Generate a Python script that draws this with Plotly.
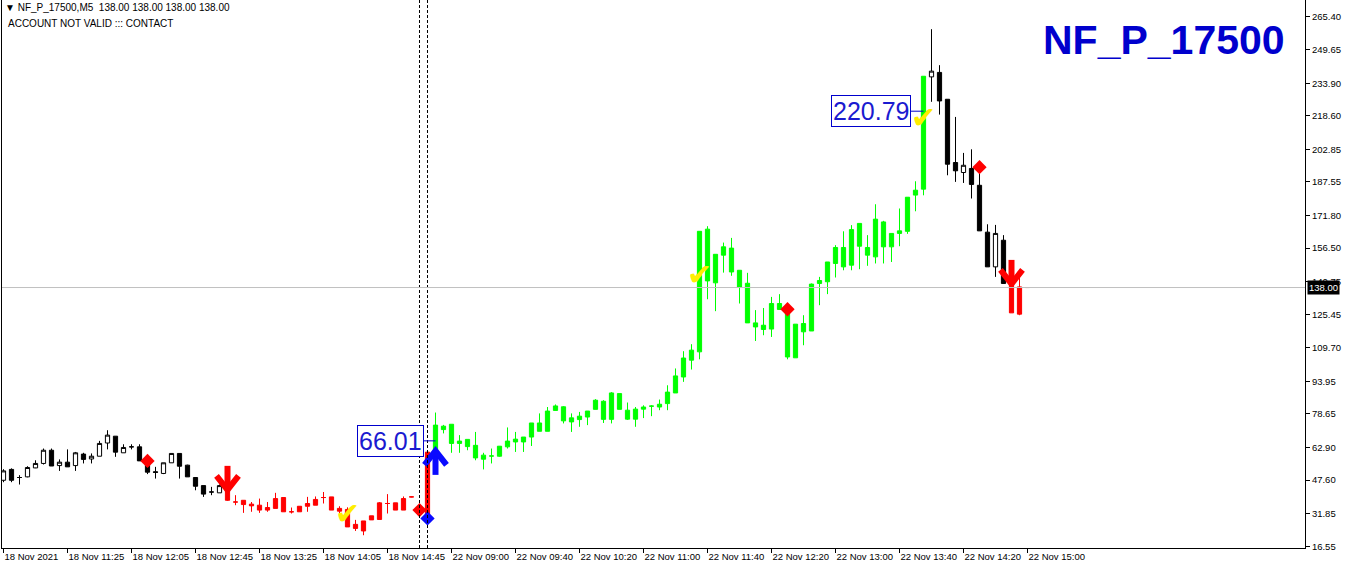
import plotly.graph_objects as go

# ---------------- data ----------------
opens = [47.5, 52.6, 48.8, 49.1, 53.3, 55.4, 61.6, 54.4, 56.0, 54.4,
         59.8, 57.5, 58.8, 65.0, 68.2, 60.4, 63.2, 63.2, 56.6, 51.5,
         50.7, 55.7, 60.1, 54.6, 48.8, 45.0, 42.0, 41.6, 44.5, 37.3,
         38.1, 36.3, 35.8, 34.7, 34.3, 39.4, 32.7, 32.7, 35.3, 35.8,
         39.4, 39.7, 34.3, 33.8, 26.8, 23.7, 28.9, 29.1, 36.6, 36.9,
         33.5, 39.7, 33.6, 28.8, 61.6, 71.3, 73.8, 65.9, 66.7, 63.9,
         59.3, 58.9, 58.8, 63.2, 65.5, 65.5, 67.8, 70.5, 70.5, 80.3,
         82.0, 76.8, 76.0, 77.2, 80.8, 84.6, 76.1, 88.2, 80.4, 76.2,
         80.9, 82.3, 81.9, 83.5, 88.5, 96.0, 103.9, 107.8, 165.4, 140.2,
         153.2, 156.5, 146.1, 140.0, 121.4, 118.3, 118.5, 130.5, 125.8, 105.0,
         117.2, 117.6, 139.9, 140.7, 149.3, 156.8, 148.5, 157.4, 153.2, 152.4,
         168.8, 157.1, 163.4, 164.4, 181.4, 184.2, 236.9, 239.0, 226.4, 196.7,
         192.0, 193.9, 186.0, 164.0, 147.7, 160.2, 139.9, 138.3, 138.0]
highs = [52.7, 53.1, 49.9, 54.1, 56.9, 62.4, 62.4, 57.3, 62.0, 60.8,
         60.4, 60.1, 66.0, 71.0, 68.2, 64.4, 64.4, 64.4, 56.6, 53.8,
         55.7, 60.1, 60.1, 54.8, 48.8, 45.0, 44.4, 45.5, 45.0, 40.5,
         38.1, 37.3, 38.9, 37.3, 41.6, 39.4, 34.7, 35.3, 39.7, 39.9,
         42.0, 39.7, 35.3, 34.8, 28.9, 28.4, 30.8, 37.3, 41.0, 36.9,
         39.9, 39.9, 33.6, 60.7, 79.3, 73.5, 73.8, 68.7, 66.7, 70.2,
         60.4, 62.4, 63.5, 72.3, 70.2, 67.8, 74.4, 78.9, 81.9, 83.1,
         82.3, 78.9, 79.6, 80.0, 85.6, 85.1, 88.9, 88.2, 84.0, 81.9,
         82.7, 82.7, 85.4, 92.1, 100.0, 108.1, 111.4, 164.4, 166.8, 153.6,
         159.1, 161.3, 146.1, 144.9, 127.4, 128.4, 133.6, 134.9, 127.7, 120.8,
         125.0, 139.9, 143.0, 150.0, 157.9, 164.4, 167.3, 168.1, 162.6, 177.1,
         169.3, 163.4, 175.1, 180.4, 187.9, 237.2, 259.3, 242.4, 226.4, 218.1,
         201.2, 202.9, 194.5, 167.7, 167.4, 162.6, 143.0, 142.7, 138.0]
lows = [46.6, 46.6, 45.5, 48.9, 53.2, 54.9, 54.2, 51.9, 53.8, 51.9,
        55.4, 55.4, 58.8, 62.0, 58.5, 60.4, 62.0, 56.6, 50.4, 48.3,
        50.4, 55.7, 48.3, 49.1, 42.8, 39.7, 40.5, 41.6, 37.8, 35.8,
        32.2, 32.7, 32.2, 32.7, 34.3, 32.7, 31.9, 32.7, 32.7, 35.8,
        36.6, 33.5, 31.9, 25.6, 23.7, 21.7, 28.9, 29.1, 31.9, 33.5,
        33.5, 39.5, 33.6, 28.8, 60.7, 69.5, 60.4, 60.4, 61.6, 56.9,
        52.6, 55.4, 58.5, 62.4, 60.8, 60.8, 63.6, 70.5, 70.5, 80.3,
        74.2, 70.2, 72.6, 73.4, 80.8, 74.4, 74.2, 80.8, 75.8, 72.6,
        76.7, 77.6, 80.4, 80.4, 88.5, 93.7, 99.5, 104.3, 132.5, 126.9,
        145.0, 143.5, 130.5, 121.4, 112.9, 115.6, 114.8, 127.7, 104.3, 105.0,
        110.9, 117.6, 129.7, 134.9, 142.7, 146.1, 146.1, 146.6, 148.2, 149.3,
        149.3, 150.0, 157.4, 163.2, 173.8, 181.3, 225.2, 219.2, 190.7, 187.6,
        187.1, 179.8, 164.6, 147.7, 143.0, 139.9, 126.1, 125.0, 138.0]
closes = [51.9, 47.5, 48.8, 53.5, 55.4, 61.6, 54.2, 56.0, 53.8, 60.4,
          57.3, 58.8, 64.8, 68.7, 60.7, 62.9, 63.2, 56.6, 51.3, 51.2,
          55.7, 60.1, 54.1, 49.1, 44.7, 41.0, 42.0, 45.0, 38.1, 37.3,
          36.1, 35.5, 33.5, 33.5, 38.9, 32.7, 32.7, 35.3, 36.6, 38.5,
          39.4, 33.5, 33.0, 25.6, 24.9, 28.4, 30.8, 36.9, 36.6, 33.5,
          38.9, 39.7, 33.6, 60.7, 73.4, 72.9, 64.8, 64.8, 63.3, 58.0,
          57.4, 58.9, 63.5, 65.9, 66.8, 67.8, 74.4, 74.4, 80.0, 82.4,
          75.4, 74.9, 77.6, 80.0, 85.1, 76.1, 88.5, 80.8, 76.2, 80.9,
          81.9, 82.3, 83.2, 88.9, 96.5, 104.9, 108.6, 164.4, 141.1, 153.6,
          157.1, 145.3, 138.2, 121.4, 119.5, 120.3, 130.5, 127.7, 105.4, 120.8,
          121.1, 139.6, 141.3, 150.0, 156.8, 147.7, 165.2, 168.1, 156.8, 170.1,
          157.1, 163.4, 164.6, 180.4, 183.7, 237.2, 239.6, 225.6, 195.9, 192.8,
          195.4, 186.4, 164.6, 147.7, 163.4, 139.9, 126.1, 125.5, 138.0]

# indicator colouring of the bars: (colour group, number of consecutive bars)
color_segments = [("default", 28), ("red", 26), ("green", 62), ("default", 10), ("red", 3)]

x_tick_labels = ["18 Nov 2021", "18 Nov 11:25", "18 Nov 12:05", "18 Nov 12:45",
                 "18 Nov 13:25", "18 Nov 14:05", "18 Nov 14:45", "22 Nov 09:00",
                 "22 Nov 09:40", "22 Nov 10:20", "22 Nov 11:00", "22 Nov 11:40",
                 "22 Nov 12:20", "22 Nov 13:00", "22 Nov 13:40", "22 Nov 14:20",
                 "22 Nov 15:00"]
x_tick_step = 8
y_tick_values = [265.40, 249.65, 233.90, 218.60, 202.85, 187.55, 171.80, 156.50,
                 140.75, 125.45, 109.70, 93.95, 78.65, 62.90, 47.60, 31.85, 16.55]

red_diamond_bars = [18, 52, 98, 122]
red_diamond_prices = [56.6, 33.5, 127.8, 194.5]
blue_diamond_bars = [53]
blue_diamond_prices = [29.6]
down_arrow_bars = [28, 126]
down_arrow_prices = [43.0, 139.7]
up_arrow_bars = [54]
up_arrow_prices = [61.3]
check_bars = [43, 87, 115]
check_prices = [30.6, 142.8, 216.5]
label_bars = [54, 115]
label_prices = [66.01, 220.79]
vline_bars = [52, 53]
symbol_name = "NF_P_17500"
timeframe = "M5"

# ---------------- layout geometry ----------------
W, H = 1346, 569
M_L, M_R, M_T, M_B = 2, 41, 0, 21
PLOT_W, PLOT_H = W - M_L - M_R, H - M_T - M_B
BAR_PX = 8.0
X_RANGE = [-(1.5 / BAR_PX), (PLOT_W - 1.5) / BAR_PX]
Y_RANGE = [15.7, 273.0]
PPX = (Y_RANGE[1] - Y_RANGE[0]) / PLOT_H   # price per pixel

n = len(closes)
groups = []
for name, count in color_segments:
    groups += [name] * count

styles = {
    "default": ("black", "white", "black", "black"),
    "green": ("#00FF00", "#00FF00", "#00FF00", "#00FF00"),
    "red": ("#FF0000", "#FF0000", "#FF0000", "#FF0000"),
}

fig = go.Figure()
for name, (inc_line, inc_fill, dec_line, dec_fill) in styles.items():
    idx = [i for i in range(n) if groups[i] == name]
    fig.add_trace(go.Candlestick(
        x=idx,
        open=[opens[i] for i in idx], high=[highs[i] for i in idx],
        low=[lows[i] for i in idx], close=[closes[i] for i in idx],
        increasing=dict(line=dict(color=inc_line, width=1), fillcolor=inc_fill),
        decreasing=dict(line=dict(color=dec_line, width=1), fillcolor=dec_fill),
        whiskerwidth=0, showlegend=False, hoverinfo="skip",
    ))

for b in vline_bars:
    fig.add_vline(x=b, line=dict(color="black", width=1, dash="3px,2px"))
fig.add_hline(y=closes[-1], line=dict(color="#C0C0C0", width=1))


def arrow_path(bars, tips, direction):
    """direction=+1 arrow pointing up, -1 pointing down"""
    xs, ys = [], []
    half_w = 11 / BAR_PX
    for b, tip in zip(bars, tips):
        tail = tip - direction * 24 * PPX
        wing = tip - direction * 14 * PPX
        xs += [b, b, None, b - half_w, b, b + half_w, None]
        ys += [tail, tip, None, wing, tip, wing, None]
    return xs, ys


ax_, ay_ = arrow_path(down_arrow_bars, down_arrow_prices, -1)
fig.add_trace(go.Scatter(x=ax_, y=ay_, mode="lines", line=dict(color="#FF0000", width=6),
                         showlegend=False, hoverinfo="skip"))
ax_, ay_ = arrow_path(up_arrow_bars, up_arrow_prices, +1)
fig.add_trace(go.Scatter(x=ax_, y=ay_, mode="lines", line=dict(color="#0A0AFF", width=6),
                         showlegend=False, hoverinfo="skip"))

fig.add_trace(go.Scatter(x=red_diamond_bars, y=red_diamond_prices, mode="markers",
                         marker=dict(symbol="diamond", size=11, color="#FF0000"),
                         showlegend=False, hoverinfo="skip"))
fig.add_trace(go.Scatter(x=blue_diamond_bars, y=blue_diamond_prices, mode="markers",
                         marker=dict(symbol="diamond", size=11, color="#0A0AFF"),
                         showlegend=False, hoverinfo="skip"))
fig.add_trace(go.Scatter(x=check_bars, y=check_prices, mode="text", text=["\u2714"] * len(check_bars),
                         textposition="middle center",
                         textfont=dict(family="DejaVu Sans", size=30, color="#FFEE00"),
                         showlegend=False, hoverinfo="skip"))

label_offsets = [-45, -53]
for b, p, off in zip(label_bars, label_prices, label_offsets):
    fig.add_annotation(x=b, y=p, text=f"{p:.2f}", showarrow=True, arrowhead=0, arrowwidth=1,
                       arrowcolor="#0000CD", ax=off, ay=0,
                       font=dict(family="Arial", size=25, color="#1A1AD0"),
                       bordercolor="#0000CD", borderwidth=1, borderpad=1, bgcolor="white")

# title & info text
fig.add_annotation(xref="paper", yref="paper", x=1, y=1, xanchor="right", yanchor="top",
                   xshift=-18, yshift=-15, text=f"<b>{symbol_name}</b>", showarrow=False,
                   font=dict(family="Arial", size=41, color="#0000CD"))
last = f"{closes[-1]:.2f}"
fig.add_annotation(xref="paper", yref="paper", x=0, y=1, xanchor="left", yanchor="top",
                   xshift=1, yshift=0,
                   text=f"\u25bc {symbol_name},{timeframe}\u00a0\u00a0{last} {last} {last} {last}",
                   showarrow=False, font=dict(family="Arial", size=10, color="black"))
fig.add_annotation(xref="paper", yref="paper", x=0, y=1, xanchor="left", yanchor="top",
                   xshift=4, yshift=-16, text="ACCOUNT NOT VALID ::: CONTACT",
                   showarrow=False, font=dict(family="Arial", size=10, color="black"))
# current price tag
fig.add_annotation(xref="paper", yref="y", x=1, y=closes[-1], xanchor="left", yanchor="middle",
                   xshift=2, text=last, showarrow=False, bgcolor="black", borderpad=1,
                   font=dict(family="Arial", size=9.5, color="white"))

fig.update_layout(
    width=W, height=H, margin=dict(l=M_L, r=M_R, t=M_T, b=M_B),
    paper_bgcolor="white", plot_bgcolor="white", showlegend=False, hovermode=False,
    boxgap=0.25,
    xaxis=dict(range=X_RANGE, tickvals=[i * x_tick_step for i in range(len(x_tick_labels))],
               ticktext=x_tick_labels, ticks="outside", ticklen=4, tickcolor="black",
               ticklabelposition="outside right", tickangle=0, automargin=False,
               showline=True, linecolor="black", linewidth=1, mirror=True,
               showgrid=False, zeroline=False, rangeslider=dict(visible=False),
               tickfont=dict(family="Arial", size=9.5, color="black")),
    yaxis=dict(range=Y_RANGE, side="right", tickvals=y_tick_values, automargin=False,
               ticktext=[f"{v:.2f}" for v in y_tick_values], ticks="outside", ticklen=4,
               tickcolor="black", showline=True, linecolor="black", linewidth=1, mirror=True,
               showgrid=False, zeroline=False,
               tickfont=dict(family="Arial", size=9.5, color="black")),
)

fig.write_html("out.html", config={"displayModeBar": False},
               post_script="document.body.style.margin='0';document.body.style.overflow='hidden';")
